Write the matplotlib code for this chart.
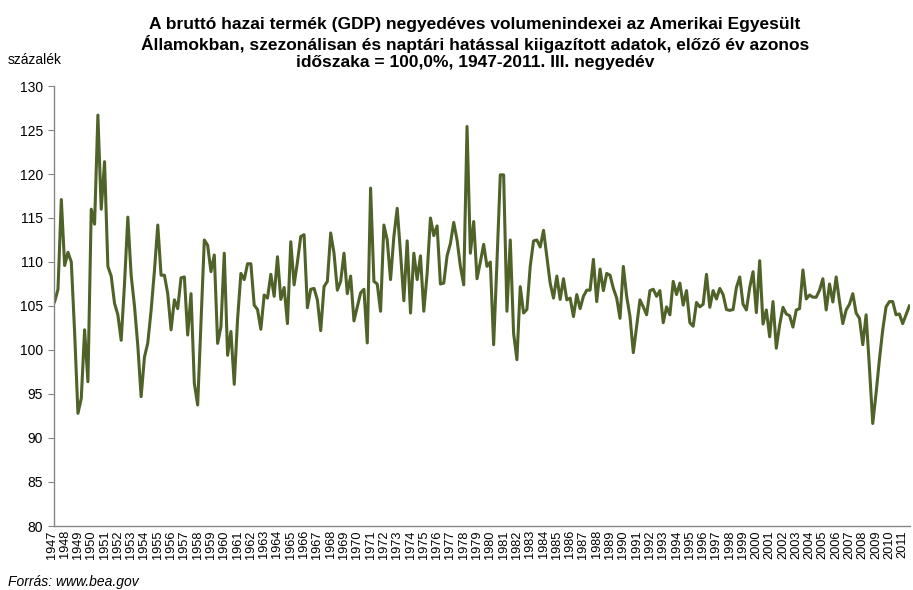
import numpy as np
import matplotlib
matplotlib.use("Agg")
from matplotlib import pyplot as plt
from matplotlib import transforms

plt.rcParams['font.family'] = ['Liberation Sans', 'DejaVu Sans']

# Quarterly values, 1947 Q2 - 2011 Q3 (previous period = 100)
gdp_1940s = [105.5, 106.9, 117.1, 109.6, 111.1, 110.0, 102.0, 92.8, 94.5, 102.3, 96.4]
gdp_1950s = [116.0, 114.3, 126.7, 116.0, 121.4, 109.5, 108.4, 105.3, 104.0, 101.1,
             107.5, 115.1, 108.5, 105.0, 100.5, 94.7, 99.2, 100.8, 104.5, 109.0,
             114.2, 108.5, 108.5, 106.4, 102.3, 105.7, 104.7, 108.2, 108.3, 101.7,
             106.4, 96.2, 93.75, 103.0, 112.5, 111.9, 108.9, 110.8, 100.75, 102.65]
gdp_1960s = [111.0, 99.4, 102.1, 96.1, 103.5, 108.7, 108.0, 109.8, 109.8, 105.1,
             104.6, 102.35, 106.25, 105.9, 108.6, 106.1, 110.6, 105.75, 107.1, 103.0,
             112.3, 107.4, 110.0, 112.9, 113.1, 104.8, 106.9, 107.0, 105.7, 102.2,
             107.2, 107.8, 113.3, 111.0, 106.8, 107.8, 111.0, 106.4, 108.4, 103.3]
gdp_1970s = [104.9, 106.5, 106.9, 100.8, 118.4, 107.8, 107.5, 104.4, 114.2, 112.5,
             108.0, 112.9, 116.1, 111.0, 105.6, 112.4, 104.2, 111.0, 108.0, 110.7,
             104.4, 108.7, 115.0, 113.0, 114.1, 107.5, 107.6, 110.7, 112.1, 114.5,
             112.5, 109.5, 107.4, 125.4, 111.0, 114.6, 108.1, 110.0, 112.0, 109.5]
gdp_1980s = [110.0, 100.6, 110.0, 119.9, 119.9, 104.4, 112.5, 101.9, 98.9, 107.2,
             104.2, 104.6, 109.5, 112.4, 112.5, 111.7, 113.6, 110.6, 107.6, 105.9,
             108.4, 105.75, 108.1, 105.7, 105.9, 103.8, 106.3, 104.7, 106.1, 106.8,
             106.8, 110.3, 105.5, 109.2, 106.75, 108.7, 108.5, 107.0, 105.9, 103.6]
gdp_1990s = [109.5, 106.1, 103.8, 99.7, 102.7, 105.7, 104.9, 104.0, 106.75, 106.9,
             106.1, 106.75, 103.1, 104.9, 104.0, 107.8, 106.3, 107.6, 105.1, 106.75,
             103.1, 102.7, 105.4, 104.9, 105.2, 108.6, 104.85, 106.75, 105.8, 107.0,
             106.3, 104.6, 104.5, 104.6, 107.1, 108.3, 105.2, 104.55, 107.1, 108.9]
gdp_2000s = [104.25, 110.15, 102.95, 104.55, 101.5, 105.5, 100.2, 102.85, 104.85, 104.1,
             103.9, 102.6, 104.55, 104.7, 109.1, 105.8, 106.25, 106.0, 106.0, 106.8,
             108.1, 104.55, 107.5, 105.45, 108.3, 105.5, 103.0, 104.55, 105.2, 106.4,
             104.2, 103.6, 100.6, 104.0, 98.0, 91.65, 95.1, 98.9, 102.3, 104.9]
gdp_2010s = [105.5, 105.5, 104.0, 104.1, 103.0, 104.0, 105.0]

values = gdp_1940s + gdp_1950s + gdp_1960s + gdp_1970s + gdp_1980s + gdp_1990s + gdp_2000s + gdp_2010s

# quarter labels
first_year, first_q = 1947, 2
years = []
quarters = []
y, q = first_year, first_q
for _ in values:
    years.append(y)
    quarters.append(q)
    q += 1
    if q > 4:
        q = 1
        y += 1

x = np.arange(len(values))
tick_pos = [i for i in x if i == 0 or quarters[i] == 1]
tick_lab = [str(years[i]) for i in tick_pos]

fig = plt.figure(figsize=(9.13, 5.9), dpi=100)
ax = fig.add_axes([54 / 913, 1 - 526 / 590, 856 / 913, 440 / 590])

ax.plot(x, values, color='#4F6228', linewidth=2.2)

ax.set_xlim(-0.2, len(values) - 0.8)
ax.set_ylim(80, 130)
ax.set_yticks(np.arange(80, 131, 5))
ax.set_xticks(tick_pos)
ax.set_xticklabels(tick_lab, rotation=90, fontsize=9.2)
ax.tick_params(axis='x', length=0, pad=3)
ax.tick_params(axis='y', length=4, direction='out', color='#868686', labelsize=10, pad=4)

# the first year has only three quarters, nudge its label a bit left
first_lab = ax.get_xticklabels()[0]
first_lab.set_transform(first_lab.get_transform() +
                        transforms.ScaledTranslation(-2.5 / 100, 0, fig.dpi_scale_trans))

for s in ['top', 'right']:
    ax.spines[s].set_visible(False)
for s in ['left', 'bottom']:
    ax.spines[s].set_color('#868686')
    ax.spines[s].set_linewidth(1)

fig.text(0.52, 0.972,
         "A bruttó hazai termék (GDP) negyedéves volumenindexei az Amerikai Egyesült\n"
         "Államokban, szezonálisan és naptári hatással kiigazított adatok, előző év azonos\n"
         "időszaka = 100,0%, 1947-2011. III. negyedév",
         ha='center', va='top', fontsize=12.5, fontweight='bold', linespacing=1.22)
fig.text(8 / 913, 1 - 60 / 590, "százalék", ha='left', va='center', fontsize=10)
fig.text(8 / 913, 1 - 582 / 590, "Forrás: www.bea.gov", ha='left', va='center',
         fontsize=10, style='italic')

fig.savefig('out.png', dpi=100)
